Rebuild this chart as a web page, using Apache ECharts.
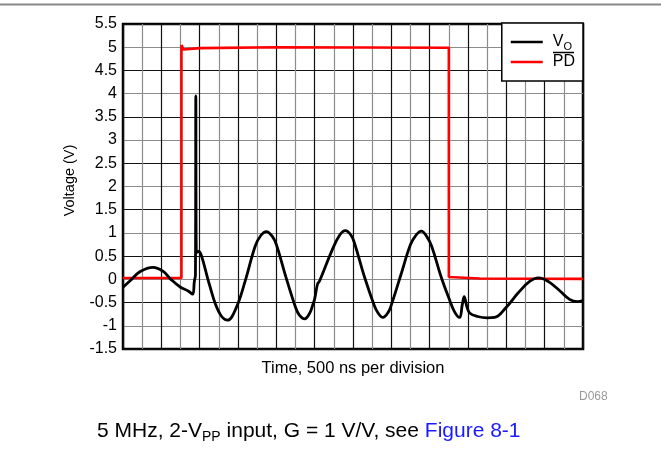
<!DOCTYPE html>
<html>
<head>
<meta charset="utf-8">
<script src="https://cdn.jsdelivr.net/npm/echarts@6/dist/echarts.min.js"></script>
<style>
  html, body { margin: 0; padding: 0; background: #fff; }
  #chart { width: 661px; height: 466px; }
</style>
</head>
<body>
<div id="chart"></div>
<script>
// time in grid divisions (0..24), voltage in V
var voTime = [0, 0.4, 0.9, 1.57, 2.1, 2.5, 3.0, 3.4, 3.63, 3.72, 3.78, 3.80, 3.83, 3.95, 4.1, 4.5, 5.0, 5.45,
    5.9, 6.4, 6.9, 7.2, 7.48, 7.8, 8.0, 8.5, 9.0, 9.2, 9.48, 9.75, 9.9, 10.0, 10.15, 10.25, 10.9, 11.3, 11.6, 11.9,
    12.1, 12.6, 13.1, 13.3, 13.56, 13.85, 14.0, 14.5, 15.0, 15.3, 15.57, 15.85, 16.1, 16.6, 17.0, 17.3, 17.56,
    17.7, 17.8, 17.95, 18.1, 18.5, 19.0, 19.4, 20.0, 20.6, 21.2, 21.7, 22.2, 22.8, 23.3, 23.7, 24];
var voValue = [-0.17, -0.02, 0.17, 0.26, 0.17, 0.0, -0.17, -0.25, -0.32, -0.05, 0.1, 3.95, 0.58, 0.6, 0.5, -0.1, -0.7, -0.88,
    -0.62, 0.0, 0.72, 0.95, 1.03, 0.92, 0.75, 0.05, -0.6, -0.77, -0.85, -0.72, -0.55, -0.42, -0.1, -0.04, 0.62, 0.95, 1.05, 0.95,
    0.75, 0.05, -0.55, -0.72, -0.82, -0.7, -0.55, 0.1, 0.75, 0.96, 1.04, 0.92, 0.72, 0.05, -0.4, -0.7, -0.82,
    -0.55, -0.37, -0.6, -0.73, -0.8, -0.83, -0.82, -0.6, -0.3, -0.05, 0.03, -0.05, -0.25, -0.43, -0.48, -0.46];

var pdTime = [0, 3.05, 3.05, 3.15, 4, 8, 17.0, 17.0, 17.1, 18.6, 24];
var pdValue = [0.03, 0.03, 5.05, 4.95, 4.98, 5.0, 4.99, 0.05, 0.08, 0.02, 0.01];

var seriesNames = ['VO', 'PD'];
var xAxisTitle = 'Time, 500 ns per division';
var yAxisTitle = 'Voltage (V)';

function pairs(xs, ys) {
    var out = [];
    for (var i = 0; i < xs.length; i++) {
        out.push([xs[i], ys[i]]);
    }
    return out;
}

var font = '"Liberation Sans", Arial, sans-serif';
var myChart = echarts.init(document.getElementById('chart'));

var option = {
    animation: false,
    grid: {
        left: 123, top: 24, right: 78, bottom: 117,
        show: true,
        borderColor: '#000',
        borderWidth: 2.5
    },
    legend: {
        data: seriesNames,
        orient: 'vertical',
        right: 78,
        top: 23,
        padding: [9, 8, 9, 9],
        itemGap: 0,
        itemWidth: 32,
        itemHeight: 2.5,
        icon: 'rect',
        borderColor: '#000',
        borderWidth: 1.5,
        backgroundColor: '#fff',
        z: 10,
        formatter: function (name) {
            if (name === 'VO') return '{a|V}{s|O}';
            return '{a|PD}';
        },
        textStyle: {
            fontFamily: font,
            color: '#000',
            lineHeight: 20,
            rich: {
                a: { fontSize: 16, lineHeight: 20, padding: [0, 0, 0, 5], fontFamily: font, color: '#000' },
                s: { fontSize: 11, lineHeight: 12, verticalAlign: 'bottom', fontFamily: font, color: '#000' }
            }
        }
    },
    xAxis: {
        type: 'value',
        min: 0,
        max: 24,
        interval: 1,
        name: xAxisTitle,
        nameLocation: 'middle',
        nameGap: 11,
        nameTextStyle: { fontFamily: font, fontSize: 16.5, color: '#000' },
        axisLine: { show: false },
        axisTick: { show: false },
        axisLabel: { show: false },
        splitLine: { lineStyle: { color: ['#111', '#8c8c8c'], width: 1.2 } }
    },
    yAxis: {
        type: 'value',
        min: -1.5,
        max: 5.5,
        interval: 0.5,
        name: yAxisTitle,
        nameLocation: 'middle',
        nameGap: 46,
        nameTextStyle: { fontFamily: font, fontSize: 14.5, color: '#000', padding: [0, 0, 0, 12] },
        axisLine: { show: false },
        axisTick: { show: false },
        axisLabel: { fontFamily: font, fontSize: 16, color: '#000', margin: 6 },
        splitLine: { lineStyle: { color: ['#111', '#8c8c8c'], width: 1.2 } }
    },
    series: [
        {
            name: 'VO',
            type: 'line',
            data: pairs(voTime, voValue),
            symbol: 'none',
            smooth: 0.4,
            z: 4,
            lineStyle: { color: '#000', width: 2.8 },
            itemStyle: { color: '#000' }
        },
        {
            name: 'PD',
            type: 'line',
            data: pairs(pdTime, pdValue),
            symbol: 'none',
            z: 3,
            lineStyle: { color: '#ff0000', width: 2.6 },
            itemStyle: { color: '#ff0000' }
        }
    ],
    graphic: [
        {
            type: 'line',
            shape: { x1: 0, y1: 4.5, x2: 661, y2: 4.5 },
            style: { stroke: '#888', lineWidth: 2 }
        },
        {
            type: 'line',
            z: 20,
            shape: { x1: 553, y1: 52.5, x2: 574, y2: 52.5 },
            style: { stroke: '#000', lineWidth: 1.5 }
        },
        {
            type: 'text',
            left: 579,
            top: 391,
            style: { text: 'D068', font: '12px ' + font, fill: '#999' }
        },
        {
            type: 'text',
            left: 97,
            top: 421,
            style: {
                text: '{n|5 MHz, 2-V}{s|PP}{n| input, G = 1 V/V, see }{b|Figure 8-1}',
                rich: {
                    n: { fontSize: 21, fontFamily: font, fill: '#000', lineHeight: 26 },
                    s: { fontSize: 14, fontFamily: font, fill: '#000', lineHeight: 16, verticalAlign: 'bottom' },
                    b: { fontSize: 21, fontFamily: font, fill: '#1a1aff', lineHeight: 26 }
                }
            }
        }
    ]
};

myChart.setOption(option);
</script>
</body>
</html>
